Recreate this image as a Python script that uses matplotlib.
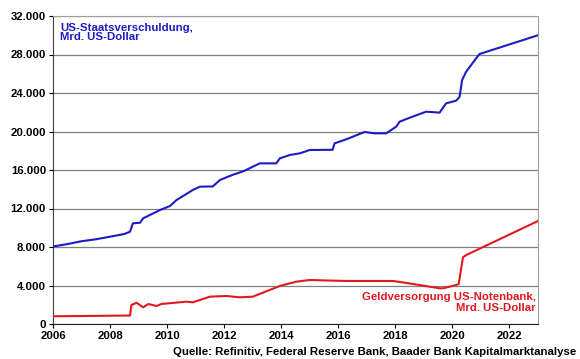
import numpy as np
import matplotlib; matplotlib.use("Agg")
import matplotlib.pyplot as plt
from matplotlib.ticker import MultipleLocator, FuncFormatter

# ── Data
debt_years = [2006.0, 2006.5, 2007.0, 2007.5, 2008.0, 2008.5, 2008.7, 2008.8, 2009.05,
              2009.16, 2009.75, 2010.1, 2010.33, 2010.9, 2011.15, 2011.6, 2011.85,
              2012.3, 2012.7, 2013.0, 2013.25, 2013.83, 2013.95, 2014.3, 2014.65,
              2015.0, 2015.8, 2015.87, 2016.28, 2016.92, 2017.27, 2017.68, 2018.03,
              2018.15, 2018.6, 2019.08, 2019.55, 2019.78, 2020.13, 2020.25, 2020.34,
              2020.48, 2020.83, 2020.95, 2023.0]
debt_vals = [8050, 8300, 8600, 8800, 9070, 9350, 9590, 10460, 10520,
             10980, 11840, 12260, 12880, 13920, 14270, 14290, 14960,
             15500, 15900, 16340, 16690, 16690, 17210, 17560, 17730,
             18080, 18100, 18770, 19190, 19950, 19810, 19810, 20500,
             21020, 21540, 22060, 21960, 22930, 23200, 23580, 25350,
             26200, 27600, 28050, 30000]

fed_years = [2006.0, 2007.0, 2008.0, 2008.7, 2008.75, 2008.93, 2009.16, 2009.34,
             2009.63, 2009.8, 2010.68, 2010.9, 2011.5, 2012.08, 2012.55, 2013.0,
             2013.95, 2014.53, 2015.0, 2016.28, 2017.92, 2018.62, 2019.55, 2019.67,
             2020.13, 2020.22, 2020.37, 2020.48, 2023.0]
fed_vals = [800, 830, 860, 880, 1970, 2210, 1730, 2080,
            1870, 2080, 2320, 2250, 2840, 2910, 2770, 2840,
            3950, 4400, 4570, 4470, 4470, 4160, 3710, 3710,
            4050, 4150, 6920, 7160, 10700]

BLUE = "#1c1cc4"
RED = "#e0191e"
FS = 8.2

plt.rcParams.update({
    "font.family": "Liberation Sans",
    "font.size": FS,
    "font.weight": "bold",
})

fig = plt.figure(figsize=(5.8, 3.59), dpi=100)
ax = fig.add_axes([53/580, 1 - 324/359, (538 - 53)/580, (324 - 16)/359])

ax.plot(debt_years, debt_vals, color=BLUE, lw=1.5, zorder=3)
ax.plot(fed_years, fed_vals, color=RED, lw=1.5, zorder=3)

ax.set_xlim(2006, 2023)
ax.set_ylim(0, 32000)
ax.xaxis.set_major_locator(MultipleLocator(2))
ax.yaxis.set_major_locator(MultipleLocator(4000))
ax.yaxis.set_major_formatter(FuncFormatter(lambda v, p: f"{int(v):,}".replace(",", ".")))
ax.grid(axis="y", color="#808080", lw=0.9)
ax.set_axisbelow(True)
for s in ["top", "right"]:
    ax.spines[s].set_color("#a0a0a0")
ax.spines["left"].set_color("#404040")
ax.spines["bottom"].set_color("#202020")
ax.tick_params(axis="both", length=3, width=0.8, labelsize=FS, pad=2)

ax.text(0.015, 0.978, "US-Staatsverschuldung,\nMrd. US-Dollar", transform=ax.transAxes,
        color=BLUE, fontsize=FS, fontweight="bold", va="top", ha="left", linespacing=0.95)
ax.text(0.995, 0.103, "Geldversorgung US-Notenbank,\nMrd. US-Dollar", transform=ax.transAxes,
        color=RED, fontsize=FS, fontweight="bold", va="top", ha="right", linespacing=1.15)

fig.text(576/580, 1 - 352/359, "Quelle: Refinitiv, Federal Reserve Bank, Baader Bank Kapitalmarktanalyse",
         ha="right", va="center", fontsize=FS, fontweight="bold")

fig.savefig("out.png", dpi=100)
